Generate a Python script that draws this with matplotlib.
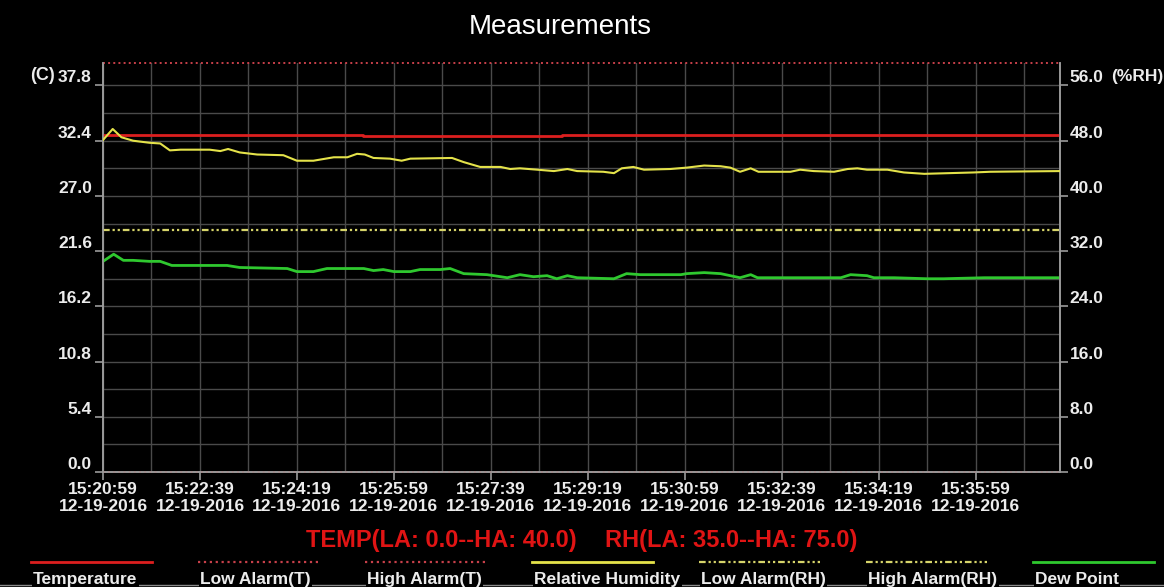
from datetime import datetime, timedelta

import matplotlib
matplotlib.use("Agg")
from matplotlib import pyplot as plt
from matplotlib import transforms
from matplotlib.lines import Line2D
from matplotlib.ticker import FixedLocator, FuncFormatter, MultipleLocator

START = datetime(2016, 12, 19, 15, 20, 59)

# seconds since START
rh_t = [0, 10, 19, 31, 48, 59, 69, 80, 110, 121, 129, 141, 159, 186, 200, 217, 238, 252, 262, 270,
        279, 296, 308, 317, 360, 372, 389, 410, 420, 430, 448, 465, 479, 489, 516, 527, 535, 547, 558, 585,
        602, 620, 637, 647, 657, 668, 676, 709, 719, 733, 754, 768, 778, 788, 809, 826, 847, 898, 915, 987]
rh = [48.1, 49.7, 48.5, 48.0, 47.7, 47.6, 46.6, 46.7, 46.7, 46.5, 46.8, 46.3, 46.0, 45.9, 45.1, 45.1, 45.6, 45.6, 46.1, 46.0,
      45.5, 45.4, 45.1, 45.4, 45.5, 44.9, 44.2, 44.2, 43.9, 44.0, 43.8, 43.6, 43.9, 43.6, 43.5, 43.3, 44.0, 44.2, 43.8, 43.9,
      44.1, 44.4, 44.3, 44.1, 43.5, 44.0, 43.5, 43.5, 43.8, 43.6, 43.5, 43.9, 44.0, 43.8, 43.8, 43.4, 43.2, 43.4, 43.5, 43.6]

dew_t = [0, 11, 21, 31, 48, 59, 71, 128, 141, 190, 200, 217, 231, 258, 269, 279, 289, 300, 317, 327,
         348, 358, 372, 396, 417, 430, 444, 458, 468, 479, 489, 527, 540, 554, 596, 602, 620, 637, 657, 668,
         675, 747, 761, 771, 788, 795, 816, 850, 867, 909, 987]
dew = [20.6, 21.3, 20.7, 20.7, 20.6, 20.6, 20.2, 20.2, 20.0, 19.9, 19.6, 19.6, 19.9, 19.9, 19.9, 19.7, 19.8, 19.6, 19.6, 19.8,
       19.8, 19.9, 19.4, 19.3, 19.0, 19.3, 19.1, 19.2, 18.9, 19.2, 19.0, 18.9, 19.4, 19.3, 19.3, 19.4, 19.5, 19.4, 19.0, 19.3,
       19.0, 19.0, 19.0, 19.3, 19.2, 19.0, 19.0, 18.9, 18.9, 19.0, 19.0]

temp_t = [0, 268, 473, 987]
temp = [33.0, 32.9, 33.0, 33.0]

TEMP_LA, TEMP_HA = 0.0, 40.0
RH_LA, RH_HA = 35.0, 75.0

temp_ticks = [0.0, 5.4, 10.8, 16.2, 21.6, 27.0, 32.4, 37.8]
rh_ticks = [0.0, 8.0, 16.0, 24.0, 32.0, 40.0, 48.0, 56.0]

RED = "#dc1f1f"
ALARM_RED = "#c8404a"
YELLOW = "#e4e24a"
ALARM_YELLOW = "#d6d46a"
GREEN = "#2fc82f"
GRID = "#4a4a4a"
TXT = "#ececec"
FONT = "Liberation Sans"
DASHDOT = (0, (3.0, 1.3, 1.0, 1.3, 1.0, 1.3))
TICK_SIZE = 12.5

legend_items = [
    ("Temperature", RED, "-"),
    ("Low Alarm(T)", ALARM_RED, ":"),
    ("High Alarm(T)", ALARM_RED, ":"),
    ("Relative Humidity", YELLOW, "-"),
    ("Low Alarm(RH)", ALARM_YELLOW, DASHDOT),
    ("High Alarm(RH)", ALARM_YELLOW, DASHDOT),
    ("Dew Point", GREEN, "-"),
]

W, H = 1164, 587
fig = plt.figure(figsize=(W / 100, H / 100), dpi=100, facecolor="black")


def fx(x):
    return x / W


def fy(y):
    return 1 - y / H


ax = fig.add_axes([fx(103), fy(472), fx(1060) - fx(103), fy(63) - fy(472)])
ax.set_facecolor("black")
ax2 = ax.twinx()

xmax = rh_t[-1]
ax.set_xlim(0, xmax)
ax.set_ylim(TEMP_LA, TEMP_HA)
ax2.set_ylim(0, rh_ticks[-1] * TEMP_HA / temp_ticks[-1])

# grid
ax.xaxis.set_major_locator(MultipleLocator(100))
ax.xaxis.set_minor_locator(MultipleLocator(50))
ax.yaxis.set_major_locator(FixedLocator(temp_ticks))
ax.yaxis.set_minor_locator(FixedLocator([v + 2.7 for v in temp_ticks]))
ax.grid(True, which="both", color=GRID, linewidth=1.0)
ax.set_axisbelow(True)

# data
ax.plot(temp_t, temp, color=RED, linewidth=2.0, drawstyle="steps-post", zorder=4)
ax.axhline(TEMP_LA, color=ALARM_RED, linestyle=":", linewidth=1.4, clip_on=False, zorder=5)
ax.axhline(TEMP_HA, color=ALARM_RED, linestyle=":", linewidth=1.4, clip_on=False, zorder=5)
ax.plot(dew_t, dew, color=GREEN, linewidth=2.0, zorder=4)
ax2.plot(rh_t, rh, color=YELLOW, linewidth=1.5, zorder=4)
ax2.axhline(RH_LA, color=ALARM_YELLOW, linestyle=DASHDOT, linewidth=1.6)
ax2.axhline(RH_HA, color=ALARM_YELLOW, linestyle=DASHDOT, linewidth=1.6)

# axes look
for a in (ax, ax2):
    a.spines["top"].set_visible(False)
    for s in ("left", "right", "bottom"):
        a.spines[s].set_color("#9a9a9a")
        a.spines[s].set_linewidth(1.2)

ax2.yaxis.set_major_locator(FixedLocator(rh_ticks))
fmt1 = FuncFormatter(lambda v, p: f"{v:.1f}")
ax.yaxis.set_major_formatter(fmt1)
ax2.yaxis.set_major_formatter(fmt1)
ax.xaxis.set_major_formatter(FuncFormatter(
    lambda v, p: (START + timedelta(seconds=v)).strftime("%H:%M:%S\n%m-%d-%Y")))

ax.tick_params(axis="y", which="major", length=6, width=1.2, color="#9a9a9a", pad=2,
               labelcolor=TXT, labelsize=TICK_SIZE)
ax.tick_params(axis="y", which="minor", length=0)
ax.tick_params(axis="x", which="major", length=6, width=1.2, color="#9a9a9a", pad=1,
               labelcolor=TXT, labelsize=TICK_SIZE)
ax.tick_params(axis="x", which="minor", length=0)
ax2.tick_params(axis="y", length=6, width=1.2, color="#9a9a9a", pad=1,
                labelcolor=TXT, labelsize=TICK_SIZE)

shift = transforms.ScaledTranslation(0, 0.09, fig.dpi_scale_trans)
for lbl in ax.get_yticklabels() + ax2.get_yticklabels():
    lbl.set_fontfamily(FONT)
    lbl.set_fontweight("bold")
    lbl.set_transform(lbl.get_transform() + shift)
for lbl in ax.get_xticklabels():
    lbl.set_fontfamily(FONT)
    lbl.set_fontweight("bold")
    lbl.set_linespacing(1.2)

# titles and unit labels
fig.text(fx(560), fy(27), "Measurements", color="white", fontsize=20, family=FONT,
         ha="center", va="center")
fig.text(fx(55), fy(76), "(C)", color=TXT, fontsize=13, family=FONT, weight="bold",
         ha="right", va="center")
fig.text(fx(1111), fy(76), "(%RH)", color=TXT, fontsize=TICK_SIZE, family=FONT, weight="bold",
         ha="left", va="center")

fig.text(fx(577), fy(540), f"TEMP(LA: {TEMP_LA:.1f}--HA: {TEMP_HA:.1f})", color="#e01414",
         fontsize=17, family=FONT, weight="bold", ha="right", va="center")
fig.text(fx(605), fy(540), f"RH(LA: {RH_LA:.1f}--HA: {RH_HA:.1f})", color="#e01414",
         fontsize=17, family=FONT, weight="bold", ha="left", va="center")

# legend drawn as line above label
fig.add_artist(Line2D([0, 1], [fy(585), fy(585)], color="#8a8a8a", linewidth=1.0,
                      transform=fig.transFigure))
for i, (name, color, ls) in enumerate(legend_items):
    x0 = 31 + i * 167
    fig.add_artist(Line2D([fx(x0), fx(x0 + 121)], [fy(562), fy(562)], color=color,
                          linestyle=ls, linewidth=2.0 if ls == "-" else 1.6,
                          transform=fig.transFigure))
    fig.text(fx(x0 + 2), fy(584), name, color=TXT, fontsize=12.5, family=FONT, weight="bold",
             ha="left", va="baseline",
             bbox=dict(facecolor="black", edgecolor="none", pad=1.0))

fig.savefig("out.png", dpi=100, facecolor="black")
